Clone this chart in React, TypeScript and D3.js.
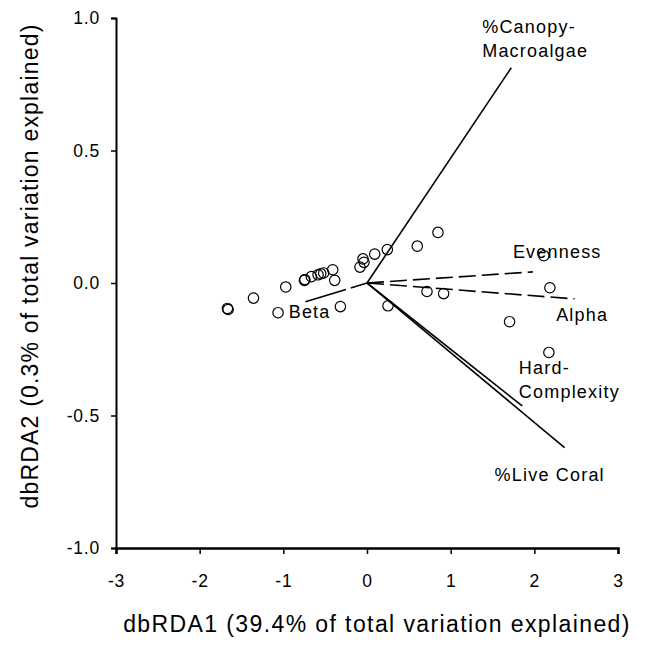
import React, { useEffect, useRef } from "react";
import * as d3 from "d3";

// Site scores (dbRDA1, dbRDA2)
const siteX = [-1.668, -1.660, -1.357, -1.063, -0.971, -0.748, -0.742, -0.665, -0.585, -0.553, -0.518, -0.41, -0.386, -0.318, -0.084, -0.048, -0.036, 0.092, 0.243, 0.251, 0.601, 0.848, 0.717, 0.916, 1.704, 2.114, 2.186, 2.174];
const siteY = [-0.096, -0.100, -0.057, -0.112, -0.015, 0.010, 0.013, 0.024, 0.031, 0.035, 0.038, 0.05, 0.01, -0.089, 0.06, 0.091, 0.078, 0.109, 0.126, -0.086, 0.139, 0.191, -0.032, -0.040, -0.146, 0.103, -0.018, -0.262];

// Predictor vectors
const vecNames = ["%Canopy-Macroalgae", "%Live Coral", "Hard-Complexity", "Evenness", "Alpha", "Beta"];
const vecX = [1.724, 2.361, 1.855, 1.982, 2.48, -0.736];
const vecY = [0.812, -0.621, -0.464, 0.042, -0.060, -0.071];
const vecDashed = [false, false, false, true, true, true];

// Vector label lines and anchors (data units)
const labelLines = [["%Canopy-", "Macroalgae"], ["%Live Coral"], ["Hard-", "Complexity"], ["Evenness"], ["Alpha"], ["Beta"]];
const labelX = [1.377, 1.525, 1.815, 1.744, 2.261, -0.936];
const labelY = [0.944, -0.748, -0.343, 0.093, -0.144, -0.132];

const xTicks = [-3, -2, -1, 0, 1, 2, 3];
const yTicks = [-1.0, -0.5, 0.0, 0.5, 1.0];
const xTitle = "dbRDA1 (39.4% of total variation explained)";
const yTitle = "dbRDA2 (0.3% of total variation explained)";

const W = 652, H = 646;
const FONT = "'Liberation Sans', Arial, Helvetica, sans-serif";

export default function App() {
  const ref = useRef<SVGSVGElement>(null);
  useEffect(() => {
    const svg = d3.select(ref.current);
    svg.selectAll("*").remove();
    const x = d3.scaleLinear().domain([-3, 3]).range([116, 618]);
    const y = d3.scaleLinear().domain([-1, 1]).range([548, 18]);

    svg.append("rect").attr("width", W).attr("height", H).attr("fill", "white");

    // axes
    const gx = svg.append("g").attr("transform", `translate(0,${y(-1)})`)
      .call(d3.axisBottom(x).tickValues(xTicks).tickSize(6).tickPadding(21).tickFormat((d: any) => String(d)));
    gx.select(".domain").attr("stroke-width", 2.5);
    gx.selectAll(".tick line").attr("stroke-width", 1.5);
    gx.selectAll("text").attr("font-size", 17.5).attr("font-family", FONT).attr("letter-spacing", 0.8).attr("fill", "#000");

    const gy = svg.append("g").attr("transform", `translate(${x(-3)},0)`)
      .call(d3.axisLeft(y).tickValues(yTicks).tickSize(5).tickPadding(11).tickFormat((d: any) => (+d).toFixed(1)));
    gy.select(".domain").attr("stroke-width", 2);
    gy.selectAll(".tick line").attr("stroke-width", 1.5);
    gy.selectAll("text").attr("font-size", 17.5).attr("font-family", FONT).attr("letter-spacing", 0.8).attr("fill", "#000");

    // vectors
    const ox = x(0), oy = y(0);
    vecNames.forEach((n, i) => {
      svg.append("line")
        .attr("x1", ox).attr("y1", oy)
        .attr("x2", x(vecX[i])).attr("y2", y(vecY[i]))
        .attr("stroke", "#000").attr("stroke-width", 1.6)
        .attr("stroke-dasharray", vecDashed[i] ? (n === "Beta" ? "17,5,80" : "17,6") : null);
    });

    // sites
    svg.append("g").selectAll("circle").data(siteX).join("circle")
      .attr("cx", (d) => x(d)).attr("cy", (_d, i) => y(siteY[i]))
      .attr("r", 5.2).attr("fill", "none").attr("stroke", "#000").attr("stroke-width", 1.2);

    // labels
    labelLines.forEach((lines, i) => {
      const t = svg.append("text")
        .attr("x", x(labelX[i])).attr("y", y(labelY[i]))
        .attr("font-size", 18).attr("font-family", FONT).attr("letter-spacing", 1.2).attr("fill", "#000");
      lines.forEach((l, j) => {
        t.append("tspan").attr("x", x(labelX[i])).attr("dy", j === 0 ? 0 : 24).text(l);
      });
    });

    // axis titles
    svg.append("text").attr("x", 377).attr("y", 632).attr("text-anchor", "middle")
      .attr("font-size", 23).attr("font-family", FONT).attr("letter-spacing", 1.4).attr("fill", "#000").text(xTitle);
    svg.append("text").attr("transform", `translate(38,266) rotate(-90)`).attr("text-anchor", "middle")
      .attr("font-size", 23).attr("font-family", FONT).attr("letter-spacing", 1.2).attr("fill", "#000").text(yTitle);
  }, []);
  return <svg ref={ref} width={W} height={H} style={{ position: "absolute", left: 0, top: 0 }} />;
}
